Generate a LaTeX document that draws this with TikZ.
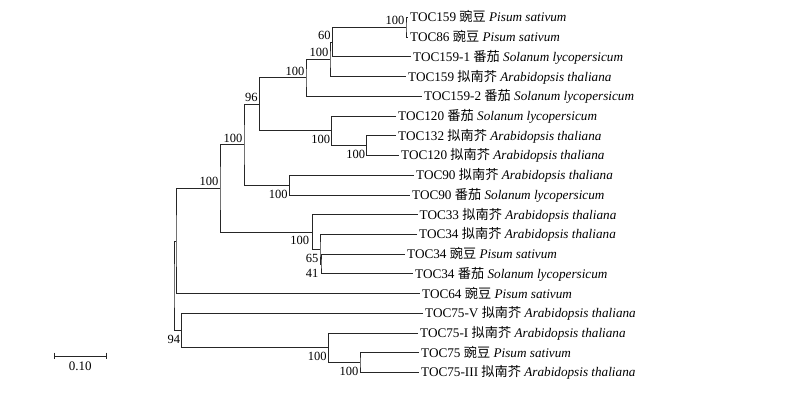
\documentclass[tikz,border=0pt]{standalone}
\usepackage{fontspec}
\setmainfont{Liberation Serif}
\newfontfamily\cjk{Noto Sans CJK SC}
\newcommand\xpea{{\cjk 豌豆} \textit{Pisum sativum}}
\newcommand\xtom{{\cjk 番茄} \textit{Solanum lycopersicum}}
\newcommand\xara{{\cjk 拟南芥} \textit{Arabidopsis thaliana}}
\begin{document}
\begin{tikzpicture}[x=1pt,y=-1pt,
  br/.style={line width=0.9pt, draw=black!85},
  leaf/.style={anchor=base west, inner sep=0pt, font=\fontsize{13.2}{15}\selectfont},
  bs/.style={anchor=base east, inner sep=0pt, font=\fontsize{12.5}{14}\selectfont}]
\useasboundingbox (0,0) rectangle (800,400);
% leaf tips
\coordinate (l1) at (408,17.5);
\coordinate (l2) at (408,37.2);
\coordinate (l3) at (411,56.9);
\coordinate (l4) at (406,76.7);
\coordinate (l5) at (422,96.4);
\coordinate (l6) at (396,116.1);
\coordinate (l7) at (396,135.8);
\coordinate (l8) at (399,155.5);
\coordinate (l9) at (414,175.3);
\coordinate (l10) at (410,195.0);
\coordinate (l11) at (417.5,214.7);
\coordinate (l12) at (417,234.4);
\coordinate (l13) at (405,254.1);
\coordinate (l14) at (413,273.9);
\coordinate (l15) at (420,293.6);
\coordinate (l16) at (423,313.3);
\coordinate (l17) at (418,333.0);
\coordinate (l18) at (419,352.7);
\coordinate (l19) at (419,372.5);
% internal nodes
\coordinate (A) at (406,27.35);
\coordinate (B) at (332.3,42.1);
\coordinate (C) at (330,59.4);
\coordinate (D) at (306,77.9);
\coordinate (F) at (366.7,145.65);
\coordinate (E) at (331.7,130.9);
\coordinate (G) at (259.3,104.4);
\coordinate (H) at (289.3,185.15);
\coordinate (I) at (244,144.8);
\coordinate (J) at (321,264.0);
\coordinate (K) at (320,249.2);
\coordinate (L) at (312.3,231.95);
\coordinate (M) at (220,188.4);
\coordinate (N) at (176,241.0);
\coordinate (R) at (360,362.6);
\coordinate (Q) at (328.3,347.8);
\coordinate (P) at (181.7,330.55);
\coordinate (O) at (174,285.8);
% branches
\draw[br] (l1) -| (A) |- (l2);
\draw[br] (A) -| (B) |- (l3);
\draw[br] (B) -| (C) |- (l4);
\draw[br] (C) -| (D) |- (l5);
\draw[br] (l7) -| (F) |- (l8);
\draw[br] (l6) -| (E) |- (F);
\draw[br] (D) -| (G) |- (E);
\draw[br] (l9) -| (H) |- (l10);
\draw[br] (G) -| (I) |- (H);
\draw[br] (l13) -| (J) |- (l14);
\draw[br] (l12) -| (K) |- (J);
\draw[br] (l11) -| (L) |- (K);
\draw[br] (I) -| (M) |- (L);
\draw[br] (M) -| (N) |- (l15);
\draw[br] (l18) -| (R) |- (l19);
\draw[br] (l17) -| (Q) |- (R);
\draw[br] (l16) -| (P) |- (Q);
\draw[br] (N) -| (O) |- (P);
% leaf labels
\node[leaf] (t1) at ([xshift=2pt,yshift=-4.4pt]l1) {TOC159 \xpea};
\node[leaf] (t2) at ([xshift=2pt,yshift=-4.4pt]l2) {TOC86 \xpea};
\node[leaf] (t3) at ([xshift=2pt,yshift=-4.4pt]l3) {TOC159-1 \xtom};
\node[leaf] (t4) at ([xshift=2pt,yshift=-4.4pt]l4) {TOC159 \xara};
\node[leaf] (t5) at ([xshift=2pt,yshift=-4.4pt]l5) {TOC159-2 \xtom};
\node[leaf] (t6) at ([xshift=2pt,yshift=-4.4pt]l6) {TOC120 \xtom};
\node[leaf] (t7) at ([xshift=2pt,yshift=-4.4pt]l7) {TOC132 \xara};
\node[leaf] (t8) at ([xshift=2pt,yshift=-4.4pt]l8) {TOC120 \xara};
\node[leaf] (t9) at ([xshift=2pt,yshift=-4.4pt]l9) {TOC90 \xara};
\node[leaf] (t10) at ([xshift=2pt,yshift=-4.4pt]l10) {TOC90 \xtom};
\node[leaf] (t11) at ([xshift=2pt,yshift=-4.4pt]l11) {TOC33 \xara};
\node[leaf] (t12) at ([xshift=2pt,yshift=-4.4pt]l12) {TOC34 \xara};
\node[leaf] (t13) at ([xshift=2pt,yshift=-4.4pt]l13) {TOC34 \xpea};
\node[leaf] (t14) at ([xshift=2pt,yshift=-4.4pt]l14) {TOC34 \xtom};
\node[leaf] (t15) at ([xshift=2pt,yshift=-4.4pt]l15) {TOC64 \xpea};
\node[leaf] (t16) at ([xshift=2pt,yshift=-4.4pt]l16) {TOC75-V \xara};
\node[leaf] (t17) at ([xshift=2pt,yshift=-4.4pt]l17) {TOC75-I \xara};
\node[leaf] (t18) at ([xshift=2pt,yshift=-4.4pt]l18) {TOC75 \xpea};
\node[leaf] (t19) at ([xshift=2pt,yshift=-4.4pt]l19) {TOC75-III \xara};
% bootstrap values
\node[bs] (bA) at ([xshift=-1.5pt,yshift=2.5pt]A) {100};
\node[bs] (bB) at ([xshift=-1.5pt,yshift=2.5pt]B) {60};
\node[bs] (bC) at ([xshift=-1.5pt,yshift=2.5pt]C) {100};
\node[bs] (bD) at ([xshift=-1.5pt,yshift=2.5pt]D) {100};
\node[bs] (bG) at ([xshift=-1.5pt,yshift=2.5pt]G) {96};
\node[bs] (bI) at ([xshift=-1.5pt,yshift=2.5pt]I) {100};
\node[bs] (bM) at ([xshift=-1.5pt,yshift=2.5pt]M) {100};
\node[bs] (bE) at ([xshift=-1.5pt,yshift=-13pt]E) {100};
\node[bs] (bF) at ([xshift=-1.5pt,yshift=-13pt]F) {100};
\node[bs] (bH) at ([xshift=-1.5pt,yshift=-13pt]H) {100};
\node[bs] (bL) at ([xshift=-3pt,yshift=-13pt]L) {100};
\node[bs] (bK) at ([xshift=-1.5pt,yshift=-13pt]K) {65};
\node[bs] (bJ) at ([xshift=-2.5pt,yshift=-13pt]J) {41};
\node[bs] (bP) at ([xshift=-1.5pt,yshift=-13pt]P) {94};
\node[bs] (bQ) at ([xshift=-1.5pt,yshift=-13pt]Q) {100};
\node[bs] (bR) at ([xshift=-1.5pt,yshift=-13pt]R) {100};
% scale bar
\coordinate (s1) at (54,356);
\coordinate (s2) at (106.7,356);
\draw[br] (s1) -- (s2);
\draw[br] ([yshift=3.3pt]s1) -- ([yshift=-3.3pt]s1);
\draw[br] ([yshift=3.3pt]s2) -- ([yshift=-3.3pt]s2);
\node[inner sep=0pt, font=\fontsize{13}{15}\selectfont] (sl) at (80.3,366.7) {0.10};
\end{tikzpicture}
\end{document}
